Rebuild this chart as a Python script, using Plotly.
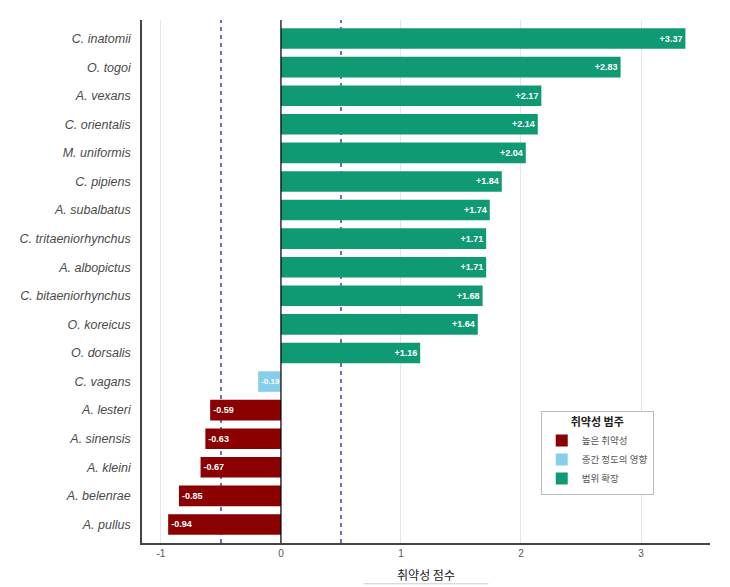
import plotly.graph_objects as go

species = ["C. inatomii", "O. togoi", "A. vexans", "C. orientalis", "M. uniformis",
           "C. pipiens", "A. subalbatus", "C. tritaeniorhynchus", "A. albopictus",
           "C. bitaeniorhynchus", "O. koreicus", "O. dorsalis", "C. vagans",
           "A. lesteri", "A. sinensis", "A. kleini", "A. belenrae", "A. pullus"]
scores = [3.37, 2.83, 2.17, 2.14, 2.04, 1.84, 1.74, 1.71, 1.71, 1.68, 1.64, 1.16,
          -0.19, -0.59, -0.63, -0.67, -0.85, -0.94]
categories = ["범위 확장"] * 12 + ["중간 정도의 영향"] + ["높은 취약성"] * 5
cat_order = ["높은 취약성", "중간 정도의 영향", "범위 확장"]
cat_colors = {"높은 취약성": "#8b0000", "중간 정도의 영향": "#87ceeb", "범위 확장": "#0f9a74"}
thresholds = [-0.5, 0.5]
xticks = [-1, 0, 1, 2, 3]

fig = go.Figure()
for cat in cat_order:
    ys = [s for s, c in zip(species, categories) if c == cat]
    xs = [v for v, c in zip(scores, categories) if c == cat]
    fig.add_trace(go.Bar(
        y=ys, x=xs, orientation="h", name=cat,
        marker=dict(color=cat_colors[cat], line=dict(width=0)),
        width=0.72,
        text=[f"{v:+.2f}" for v in xs],
        textposition="inside", insidetextanchor="end", constraintext="none",
        textfont=dict(color="white", size=8 if cat == "중간 정도의 영향" else 9,
                      family="Liberation Sans"),
        texttemplate="<b>%{text}</b>",
        cliponaxis=False,
    ))

for t in thresholds:
    fig.add_shape(type="line", x0=t, x1=t, y0=0, y1=1, xref="x", yref="paper",
                  line=dict(color="#33338f", width=1.4, dash="4px,4px"), layer="below")
fig.add_shape(type="line", x0=0, x1=0, y0=0, y1=1, xref="x", yref="paper",
              line=dict(color="black", width=1.2), layer="above")
fig.add_shape(type="line", x0=0.39, x1=0.61, y0=-0.078, y1=-0.078, xref="paper", yref="paper",
              line=dict(color="#cccccc", width=1))

fig.update_layout(
    width=730, height=587,
    margin=dict(l=142, r=20, t=20, b=44, autoexpand=False),
    plot_bgcolor="white", paper_bgcolor="white",
    barmode="relative",
    showlegend=True,
    legend=dict(
        title=dict(text="<b>취약성 범주</b>", side="top center",
                   font=dict(size=11, color="#222", family="Noto Sans CJK KR")),
        x=0.702, y=0.253, xanchor="left", yanchor="top",
        bordercolor="#bbbbbb", borderwidth=1, bgcolor="white",
        font=dict(size=9.5, color="#555", family="Noto Sans CJK KR"),
        traceorder="normal", itemwidth=30, tracegroupgap=0,
    ),
    xaxis=dict(
        range=[-1.158, 3.575], tickvals=xticks, ticktext=[str(t) for t in xticks],
        showgrid=True, gridcolor="#e6e6e6", gridwidth=1, zeroline=False,
        showline=True, linecolor="#444", linewidth=1.5, automargin=False,
        tickfont=dict(size=10, color="#555", family="Liberation Sans"),
        title=dict(text="취약성 점수", font=dict(size=12, color="#222", family="Noto Sans CJK KR"),
                   standoff=14),
    ),
    yaxis=dict(
        categoryorder="array", categoryarray=species,
        range=[17.65, -0.65], automargin=False,
        showgrid=False, zeroline=False,
        showline=True, linecolor="#444", linewidth=1.5,
        ticks="", ticklabelstandoff=7,
        tickfont=dict(size=12.5, color="#4a4a4a", family="Liberation Sans", style="italic"),
    ),
)

fig.write_html("out.html")
